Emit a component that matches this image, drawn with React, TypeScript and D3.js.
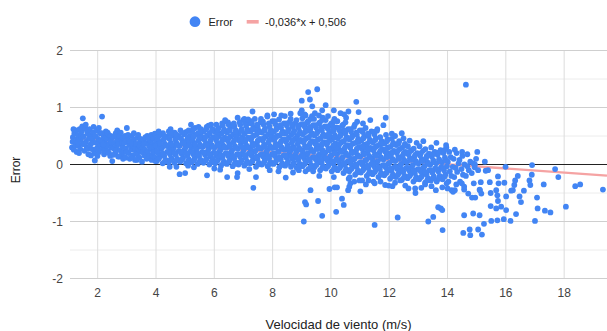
import React from 'react';
import * as d3 from 'd3';

// chart labels
const seriesLabel = 'Error';
const trendLabel = '-0,036*x + 0,506';
const xTitle = 'Velocidad de viento (m/s)';
const yTitle = 'Error';

// axis ticks
const xTicks = [2, 4, 6, 8, 10, 12, 14, 16, 18];
const yTicks = [-2, -1, 0, 1, 2];
const yMinorTicks = [-1.5, -0.5, 0.5, 1.5];
const xDomain = [1.05, 19.47];
const yDomain = [-2, 2];

// linear trend fitted by the spreadsheet
const trendSlope = -0.036;
const trendIntercept = 0.506;

// [wind speed m/s, error], grouped by speed
const calmWind: [number, number][] = [
  [1.12,.30],[1.15,.48],[1.2,.55],[1.22,.38],[1.26,.6],[1.28,.22],[1.3,.45],[1.14,.4],[1.18,.26],[1.24,.33],[1.17,.62],
  [1.33,.52],[1.35,.33],[1.38,.62],[1.4,.27],[1.42,.44],[1.45,.58],[1.48,.36],[1.49,.81],[1.36,.2],[1.44,.5],[1.47,.67],[1.32,.4],
  [1.52,.49],[1.55,.24],[1.57,.64],[1.6,.4],[1.62,.31],[1.65,.55],[1.68,.18],[1.7,.46],[1.54,.36],[1.59,.7],[1.66,.28],[1.63,.6],
  [1.72,.62],[1.75,.35],[1.78,.52],[1.8,.27],[1.83,.43],[1.86,.66],[1.88,.2],[1.9,.07],[1.74,.45],[1.77,.16],[1.84,.56],[1.81,.38],
  [1.92,.5],[1.95,.38],[1.97,.6],[2.0,.3],[2.02,.45],[2.05,.22],[2.08,.55],[2.1,.35],[1.94,.27],[1.99,.15],[2.04,.64],[2.07,.42],
  [2.12,.42],[2.15,.84],[2.17,.28],[2.2,.5],[2.22,.18],[2.25,.38],[2.28,.58],[2.3,.32],[2.14,.55],[2.19,.35],[2.24,.24],[2.27,.46],
  [2.33,.45],[2.35,.24],[2.38,.52],[2.4,.36],[2.43,.15],[2.45,.42],[2.48,.3],[2.5,.06],[2.34,.56],[2.39,.2],[2.44,.5],[2.47,.38],
  [2.52,.48],[2.55,.28],[2.57,.38],[2.6,.2],[2.62,.55],[2.65,.33],[2.68,.44],[2.7,.14],[2.54,.17],[2.58,.5],[2.63,.25],[2.67,.6],
  [2.72,.36],[2.75,.5],[2.77,.25],[2.8,.42],[2.83,.18],[2.85,.31],[2.88,.47],[2.9,.22],[2.74,.14],[2.79,.56],[2.84,.38],[2.87,.1],
  [2.92,.38],[2.95,.12],[2.97,.28],[3.0,.64],[3.02,.45],[3.05,.2],[3.08,.34],[3.1,.1],[2.94,.5],[2.99,.22],[3.04,.52],[3.07,.42],
  [3.12,.4],[3.15,.26],[3.17,.5],[3.2,.16],[3.22,.32],[3.25,.44],[3.28,.08],[3.3,.24],[3.14,.12],[3.19,.36],[3.24,.55],[3.27,.3],
  [3.32,.36],[3.35,.18],[3.37,.47],[3.4,.28],[3.43,.12],[3.45,.4],[3.48,.22],[3.5,.33],[3.34,.08],[3.39,.52],[3.44,.32],[3.47,.45],
  [3.52,.05],[3.55,.3],[3.57,.44],[3.6,.16],[3.62,.26],[3.65,.38],[3.68,.1],[3.7,.5],[3.54,.22],[3.59,.36],[3.64,.48],[3.67,.2],
  [3.72,.22],[3.75,.34],[3.77,.14],[3.8,.42],[3.83,.27],[3.85,.08],[3.88,.36],[3.9,.2],[3.74,.46],[3.79,.3],[3.84,.52],[3.87,.16],
  [3.92,.46],[3.95,.3],[3.97,.12],[3.99,.38],[3.93,.22],[3.96,.54],[3.98,.06],
];

const moderateWind: [number, number][] = [
  [4.03,.06],[4.13,.14],[4.08,.2],[4.18,.27],[4.01,.33],[4.11,.4],[4.06,.46],[4.16,.52],
  [4.23,.02],[4.33,.08],[4.28,.15],[4.38,.22],[4.21,.3],[4.31,.36],[4.26,.43],[4.36,.49],[4.24,.55],
  [4.43,.04],[4.53,.11],[4.48,.18],[4.58,.25],[4.41,.32],[4.51,.38],[4.46,.45],[4.56,.51],[4.44,.58],
  [4.63,.03],[4.73,.1],[4.68,.17],[4.78,.24],[4.61,.3],[4.71,.37],[4.66,.44],[4.76,.5],[4.64,.56],
  [4.83,.05],[4.93,.12],[4.88,.19],[4.98,.26],[4.81,.33],[4.91,.4],[4.86,.46],[4.96,.53],[4.84,.6],
  [5.03,.02],[5.13,.09],[5.08,.16],[5.18,.23],[5.01,.3],[5.11,.36],[5.06,.43],[5.16,.5],[5.04,.57],
  [5.23,.04],[5.33,.11],[5.28,.18],[5.38,.25],[5.21,.31],[5.31,.38],[5.26,.45],[5.36,.52],[5.24,.58],[5.34,.64],
  [5.43,.01],[5.53,.08],[5.48,.15],[5.58,.22],[5.41,.29],[5.51,.35],[5.46,.42],[5.56,.49],[5.44,.55],[5.54,.62],
  [5.63,.03],[5.73,.1],[5.68,.17],[5.78,.24],[5.61,.31],[5.71,.37],[5.66,.44],[5.76,.51],[5.64,.58],[5.74,.66],
  [5.83,0],[5.93,.07],[5.88,.14],[5.98,.21],[5.81,.28],[5.91,.34],[5.86,.41],[5.96,.48],[5.84,.55],[5.94,.62],[5.89,.7],
  [6.03,.02],[6.13,.09],[6.08,.16],[6.18,.23],[6.01,.3],[6.11,.37],[6.06,.43],[6.16,.5],[6.04,.57],[6.14,.64],
  [6.23,-.02],[6.33,.05],[6.28,.12],[6.38,.19],[6.21,.26],[6.31,.33],[6.26,.4],[6.36,.47],[6.24,.54],[6.34,.61],[6.29,.68],[6.39,.76],
  [6.43,.01],[6.53,.08],[6.48,.15],[6.58,.22],[6.41,.29],[6.51,.36],[6.46,.42],[6.56,.49],[6.44,.56],[6.54,.63],[6.49,.7],
  [6.63,-.03],[6.73,.04],[6.68,.11],[6.78,.18],[6.61,.25],[6.71,.32],[6.66,.39],[6.76,.46],[6.64,.53],[6.74,.6],[6.69,.67],
  [6.83,0],[6.93,.07],[6.88,.14],[6.98,.21],[6.81,.28],[6.91,.35],[6.86,.42],[6.96,.48],[6.84,.55],[6.94,.62],[6.89,.7],[6.99,.78],
  [7.03,-.02],[7.13,.05],[7.08,.12],[7.18,.19],[7.01,.26],[7.11,.33],[7.06,.4],[7.16,.47],[7.04,.54],[7.14,.61],[7.09,.68],
  [7.23,.02],[7.33,.09],[7.28,.16],[7.38,.23],[7.21,.3],[7.31,.37],[7.26,.44],[7.36,.51],[7.24,.58],[7.34,.65],[7.29,.72],[7.39,.8],
  [7.43,-.04],[7.53,.03],[7.48,.1],[7.58,.17],[7.41,.24],[7.51,.31],[7.46,.38],[7.56,.45],[7.44,.52],[7.54,.59],[7.49,.66],[7.59,.74],
  [7.63,0],[7.73,.07],[7.68,.14],[7.78,.21],[7.61,.28],[7.71,.35],[7.66,.42],[7.76,.49],[7.64,.56],[7.74,.63],[7.69,.7],
  [7.83,-.03],[7.93,.04],[7.88,.11],[7.98,.18],[7.81,.25],[7.91,.32],[7.86,.39],[7.96,.46],[7.84,.53],[7.94,.6],[7.89,.67],[7.99,.76],[7.82,.84],
  [4.15,.3],[4.5,.28],[4.9,.22],[5.15,.4],[5.5,.45],[5.7,.2],[6.1,.55],[6.3,.3],[6.55,.18],[6.75,.5],
  [7.0,.42],[7.25,.26],[7.45,.6],[7.7,.32],[7.95,.5],[5.95,.1],[6.65,.7],[7.15,.72],[4.7,.46],[5.35,.3],
  // in between the columns above
  [4.1,.1],[4.04,.24],[4.14,.37],[4.09,.5],[4.3,.05],[4.24,.19],[4.34,.33],[4.29,.47],
  [4.5,.08],[4.44,.22],[4.54,.35],[4.49,.55],[4.7,.07],[4.64,.2],[4.74,.34],[4.69,.53],
  [4.9,.09],[4.84,.23],[4.94,.37],[4.89,.56],[5.1,.06],[5.04,.2],[5.14,.33],[5.09,.47],[5.12,.6],
  [5.3,.07],[5.24,.22],[5.34,.35],[5.29,.49],[5.27,.62],[5.5,.05],[5.44,.19],[5.54,.32],[5.49,.46],[5.52,.58],
  [5.7,.07],[5.64,.21],[5.74,.34],[5.69,.48],[5.72,.62],[5.9,.04],[5.84,.18],[5.94,.31],[5.89,.45],[5.92,.59],
  [6.1,.06],[6.04,.2],[6.14,.33],[6.09,.47],[6.12,.61],[6.07,.7],[6.3,.02],[6.24,.16],[6.34,.3],[6.29,.44],[6.32,.58],[6.27,.72],
  [6.5,.05],[6.44,.19],[6.54,.32],[6.49,.46],[6.52,.6],[6.47,.74],[6.7,.01],[6.64,.15],[6.74,.29],[6.69,.43],[6.72,.57],[6.67,.72],
  [6.9,.04],[6.84,.18],[6.94,.31],[6.89,.45],[6.92,.59],[6.87,.74],[7.1,.02],[7.04,.16],[7.14,.3],[7.09,.44],[7.12,.58],[7.07,.73],
  [7.3,.05],[7.24,.2],[7.34,.33],[7.29,.48],[7.32,.62],[7.27,.76],[7.5,0],[7.44,.14],[7.54,.28],[7.49,.42],[7.52,.56],[7.47,.7],
  [7.7,.03],[7.64,.18],[7.74,.31],[7.69,.46],[7.72,.6],[7.67,.75],[7.9,.01],[7.84,.15],[7.94,.29],[7.89,.43],[7.92,.57],[7.87,.72],
  // scattered above and below the band
  [5.46,.66],[5.8,.68],[6.37,.78],[6.8,.82],[7.03,.8],[7.16,.79],[7.31,.93],[7.6,.8],[7.82,.86],[5.2,.7],[4.5,.62],[4.09,.58],
  [4.47,-.04],[4.7,-.04],[4.81,-.17],[5.0,-.15],[5.75,-.19],[6.2,-.09],[6.44,-.22],[6.8,-.15],[6.78,-.22],[7.34,-.41],[7.43,-.22],
  [5.3,-.05],[6.0,-.07],[7.9,-.1],[5.1,-.02],[7.2,-.08],
];

const freshWind: [number, number][] = [
  [8.03,.01],[8.13,.08],[8.08,.15],[8.18,.22],[8.01,.29],[8.11,.36],[8.06,.43],[8.16,.5],[8.04,.57],[8.14,.64],[8.09,.71],[8.05,.88],
  [8.23,-.05],[8.33,.02],[8.28,.09],[8.38,.16],[8.21,.23],[8.31,.3],[8.26,.37],[8.36,.44],[8.24,.51],[8.34,.58],[8.29,.65],[8.39,.72],[8.22,.79],
  [8.43,-.02],[8.53,.05],[8.48,.12],[8.58,.19],[8.41,.26],[8.51,.33],[8.46,.4],[8.56,.47],[8.44,.54],[8.54,.61],[8.49,.68],[8.59,.75],
  [8.63,-.04],[8.73,.03],[8.68,.1],[8.78,.17],[8.61,.24],[8.71,.31],[8.66,.38],[8.76,.45],[8.64,.52],[8.74,.59],[8.69,.66],[8.79,.73],[8.62,.8],[8.62,.89],
  [8.83,-.06],[8.93,.01],[8.88,.08],[8.98,.15],[8.81,.22],[8.91,.29],[8.86,.36],[8.96,.43],[8.84,.5],[8.94,.57],[8.89,.64],[8.99,.71],[8.82,.78],
  [9.03,-.03],[9.13,.04],[9.08,.11],[9.18,.18],[9.01,.25],[9.11,.32],[9.06,.39],[9.16,.46],[9.04,.53],[9.14,.6],[9.09,.67],[9.19,.74],[9.02,.81],[9.0,.95],
  [9.23,-.08],[9.33,-.01],[9.28,.06],[9.38,.13],[9.21,.2],[9.31,.27],[9.26,.34],[9.36,.41],[9.24,.48],[9.34,.55],[9.29,.62],[9.39,.69],[9.22,.76],[9.13,.86],
  [9.43,-.05],[9.53,.02],[9.48,.09],[9.58,.16],[9.41,.23],[9.51,.3],[9.46,.37],[9.56,.44],[9.44,.51],[9.54,.58],[9.49,.65],[9.59,.72],[9.42,.8],
  [9.63,-.1],[9.73,-.03],[9.68,.04],[9.78,.11],[9.61,.18],[9.71,.25],[9.66,.32],[9.76,.39],[9.64,.46],[9.74,.53],[9.69,.6],[9.79,.67],[9.62,.74],[9.72,.82],[9.59,.86],
  [9.83,-.07],[9.93,0],[9.88,.07],[9.98,.14],[9.81,.21],[9.91,.28],[9.86,.35],[9.96,.42],[9.84,.49],[9.94,.56],[9.89,.63],[9.99,.7],[9.82,.78],
  [10.03,-.12],[10.13,-.05],[10.08,.02],[10.18,.09],[10.01,.16],[10.11,.23],[10.06,.3],[10.16,.37],[10.04,.44],[10.14,.51],[10.09,.58],[10.19,.65],[10.02,.72],[10.12,.8],
  [10.23,-.1],[10.33,-.03],[10.28,.04],[10.38,.11],[10.21,.18],[10.31,.25],[10.26,.32],[10.36,.39],[10.24,.46],[10.34,.53],[10.29,.6],[10.39,.68],[10.22,.76],
  [10.43,-.15],[10.53,-.08],[10.48,-.01],[10.58,.06],[10.41,.13],[10.51,.2],[10.46,.27],[10.56,.34],[10.44,.41],[10.54,.48],[10.49,.55],[10.59,.62],[10.42,.7],[10.52,.82],
  [10.63,-.12],[10.73,-.05],[10.68,.02],[10.78,.09],[10.61,.16],[10.71,.23],[10.66,.3],[10.76,.37],[10.64,.44],[10.74,.51],[10.69,.58],[10.79,.66],
  [10.83,-.18],[10.93,-.11],[10.88,-.04],[10.98,.03],[10.81,.1],[10.91,.17],[10.86,.24],[10.96,.31],[10.84,.38],[10.94,.45],[10.89,.52],[10.99,.6],[10.82,.7],
  [11.03,-.14],[11.13,-.07],[11.08,0],[11.18,.07],[11.01,.14],[11.11,.21],[11.06,.28],[11.16,.35],[11.04,.42],[11.14,.49],[11.09,.57],[11.19,.64],
  [11.23,-.2],[11.33,-.13],[11.28,-.06],[11.38,.01],[11.21,.08],[11.31,.15],[11.26,.22],[11.36,.29],[11.24,.36],[11.34,.43],[11.29,.5],[11.39,.58],
  [11.43,-.17],[11.53,-.1],[11.48,-.03],[11.58,.04],[11.41,.11],[11.51,.18],[11.46,.25],[11.56,.32],[11.44,.39],[11.54,.46],[11.49,.53],[11.59,.62],
  [11.63,-.22],[11.73,-.15],[11.68,-.08],[11.78,-.01],[11.61,.06],[11.71,.13],[11.66,.2],[11.76,.27],[11.64,.34],[11.74,.41],[11.69,.48],
  [11.83,-.19],[11.93,-.12],[11.88,-.05],[11.98,.02],[11.81,.09],[11.91,.16],[11.86,.23],[11.96,.3],[11.84,.37],[11.94,.44],[11.89,.52],
  [8.1,.3],[8.35,.55],[8.55,.25],[8.8,.45],[9.05,.2],[9.25,.6],[9.5,.35],[9.75,.15],[9.95,.5],[10.2,.28],
  [10.45,.6],[10.7,.1],[10.95,.4],[11.2,.3],[11.45,.05],[11.7,.35],[11.95,.2],[9.35,.85],[10.05,.68],[8.95,.9],
  // in between the columns above
  [8.1,.04],[8.04,.19],[8.14,.33],[8.09,.47],[8.12,.61],[8.07,.76],[8.3,-.01],[8.24,.13],[8.34,.27],[8.29,.41],[8.32,.55],[8.27,.69],
  [8.5,.02],[8.44,.16],[8.54,.3],[8.49,.44],[8.52,.58],[8.47,.72],[8.7,0],[8.64,.14],[8.74,.28],[8.69,.42],[8.72,.56],[8.67,.7],
  [8.9,-.02],[8.84,.12],[8.94,.26],[8.89,.4],[8.92,.54],[8.87,.68],[9.1,.01],[9.04,.15],[9.14,.29],[9.09,.43],[9.12,.57],[9.07,.71],[9.1,.88],
  [9.3,-.04],[9.24,.1],[9.34,.24],[9.29,.38],[9.32,.52],[9.27,.66],[9.3,.8],[9.5,-.01],[9.44,.13],[9.54,.27],[9.49,.41],[9.52,.55],[9.47,.69],
  [9.7,-.06],[9.64,.08],[9.74,.22],[9.69,.36],[9.72,.5],[9.67,.64],[9.7,.78],[9.9,-.03],[9.84,.11],[9.94,.25],[9.89,.39],[9.92,.53],[9.87,.67],
  [10.1,-.08],[10.04,.06],[10.14,.2],[10.09,.34],[10.12,.48],[10.07,.62],[10.1,.76],[10.3,-.06],[10.24,.08],[10.34,.22],[10.29,.36],[10.32,.5],[10.27,.64],
  [10.5,-.11],[10.44,.03],[10.54,.17],[10.49,.31],[10.52,.45],[10.47,.59],[10.5,.74],[10.7,-.08],[10.64,.06],[10.74,.2],[10.69,.34],[10.72,.48],[10.67,.62],
  [10.9,-.14],[10.84,0],[10.94,.14],[10.89,.28],[10.92,.42],[10.87,.56],[11.1,-.1],[11.04,.04],[11.14,.18],[11.09,.32],[11.12,.46],[11.07,.6],
  [11.3,-.16],[11.24,-.02],[11.34,.12],[11.29,.26],[11.32,.4],[11.27,.54],[11.5,-.13],[11.44,.01],[11.54,.15],[11.49,.29],[11.52,.43],[11.47,.57],
  [11.7,-.18],[11.64,-.04],[11.74,.1],[11.69,.24],[11.72,.38],[11.9,-.15],[11.84,-.01],[11.94,.13],[11.89,.27],[11.92,.41],
  // scattered above and below the band
  [8.42,.85],[9.0,1.12],[9.22,1.27],[9.53,1.32],[9.28,1.14],[9.36,1.02],[9.82,1.04],[10.1,.95],[10.33,.9],[10.6,.93],[10.87,1.1],
  [10.95,.92],[10.9,.75],[11.35,.78],[11.88,.82],[11.8,.69],[11.58,.59],[9.45,.9],[9.7,.95],[10.45,.88],[8.3,.86],[9.9,.85],[11.1,.72],
  [8.45,-.23],[8.9,-.1],[9.13,-.12],[9.39,-.12],[9.3,-.45],[9.11,-.66],[9.15,-.7],[9.56,-.64],[9.07,-1.0],[9.7,-.9],[9.95,-.43],
  [10.13,-.4],[10.21,-.4],[10.18,-.83],[10.38,-.6],[10.44,-.71],[10.59,-.45],[10.63,-.39],[10.61,-.25],[10.67,-.33],[10.65,-.22],
  [10.98,-.28],[11.01,-.47],[11.07,-.28],[11.29,-.28],[11.46,-.3],[11.5,-.33],[11.5,-1.06],[11.86,-.36],[11.98,-.37],
  [8.2,-.12],[8.7,-.14],[9.6,-.2],[10.1,-.22],[10.8,-.3],[11.2,-.35],[11.7,-.3],
];

const strongWind: [number, number][] = [
  [12.03,-.25],[12.13,-.18],[12.08,-.11],[12.18,-.04],[12.01,.03],[12.11,.1],[12.06,.17],[12.16,.24],[12.04,.31],[12.14,.38],[12.09,.45],
  [12.23,-.22],[12.33,-.15],[12.28,-.08],[12.38,-.01],[12.21,.06],[12.31,.13],[12.26,.2],[12.36,.27],[12.24,.34],[12.34,.41],
  [12.43,-.27],[12.53,-.2],[12.48,-.13],[12.58,-.06],[12.41,.01],[12.51,.08],[12.46,.15],[12.56,.22],[12.44,.29],[12.54,.36],[12.49,.46],
  [12.63,-.24],[12.73,-.17],[12.68,-.1],[12.78,-.03],[12.61,.04],[12.71,.11],[12.66,.18],[12.76,.25],[12.64,.32],
  [12.83,-.3],[12.93,-.22],[12.88,-.15],[12.98,-.08],[12.81,-.01],[12.91,.06],[12.86,.13],[12.96,.2],[12.84,.28],[12.94,.38],
  [13.03,-.26],[13.13,-.19],[13.08,-.12],[13.18,-.05],[13.01,.02],[13.11,.09],[13.06,.16],[13.16,.24],[13.04,.32],
  [13.23,-.32],[13.33,-.24],[13.28,-.17],[13.38,-.1],[13.21,-.03],[13.31,.04],[13.26,.11],[13.36,.19],[13.24,.27],
  [13.43,-.28],[13.53,-.21],[13.48,-.14],[13.58,-.07],[13.41,0],[13.51,.07],[13.46,.14],[13.56,.22],[13.44,.3],
  [13.63,-.3],[13.73,-.2],[13.68,-.12],[13.78,-.05],[13.61,.02],[13.71,.09],[13.66,.17],[13.76,.25],
  [13.83,-.26],[13.93,-.17],[13.88,-.1],[13.98,-.03],[13.81,.04],[13.91,.12],[13.86,.2],[13.96,.3],
  [14.03,-.3],[14.13,-.2],[14.08,-.12],[14.18,-.04],[14.01,.05],[14.11,.13],[14.06,.22],
  [14.23,-.22],[14.33,-.13],[14.28,-.06],[14.38,.02],[14.21,.1],[14.31,.2],
  [14.43,-.3],[14.53,-.18],[14.48,-.08],[14.58,0],[14.41,.08],[14.51,.15],
  [14.63,-.2],[14.73,-.1],[14.68,-.03],[14.78,.05],
  [14.83,-.15],[14.93,-.05],[14.88,.02],[14.98,.1],
  // in between the columns above
  [12.1,-.21],[12.04,-.07],[12.14,.07],[12.09,.21],[12.12,.35],[12.3,-.18],[12.24,-.04],[12.34,.1],[12.29,.24],[12.32,.37],
  [12.5,-.23],[12.44,-.09],[12.54,.05],[12.49,.19],[12.52,.33],[12.7,-.2],[12.64,-.06],[12.74,.08],[12.69,.22],
  [12.9,-.26],[12.84,-.11],[12.94,.03],[12.89,.17],[13.1,-.22],[13.04,-.08],[13.14,.06],[13.09,.2],
  [13.3,-.28],[13.24,-.13],[13.34,.01],[13.29,.15],[13.5,-.24],[13.44,-.1],[13.54,.04],[13.49,.18],
  [13.7,-.25],[13.64,-.08],[13.74,.06],[13.69,.21],[13.9,-.21],[13.84,-.06],[13.94,.08],[13.89,.25],
  // scattered above and below the band
  [12.09,.54],[12.43,.55],[13.17,.41],[13.62,.38],[13.95,.34],[12.7,.42],[14.63,1.4],[14.68,.18],[14.5,.22],[14.25,.26],[12.2,.5],
  [12.11,-.38],[12.2,-.32],[12.38,-.28],[12.55,-.37],[12.66,-.42],[12.89,-.42],[13.1,-.41],[13.23,-.35],[13.45,-.38],[13.82,-.4],
  [14.14,-.45],[14.19,-.48],[14.25,-.45],[14.57,-.44],[14.71,-.51],[14.84,-.58],[14.57,-.39],[13.97,-.33],[14.49,-.33],[14.9,-.33],
  [12.29,-.93],[13.34,-1.0],[13.51,-.92],[13.68,-.75],[13.77,-.77],[13.82,-.8],[13.83,-1.15],[14.57,-.89],[14.54,-1.2],[14.76,-1.14],
  [14.78,-1.24],[14.88,-.86],[14.94,0],[14.3,-.35],[14.0,-.42],[12.9,-.5],[13.6,-.45],[14.95,-.58],
];

const galeWind: [number, number][] = [
  [15.02,.22],[15.28,.05],[15.31,-.11],[15.05,-.1],[15.39,-.1],[15.1,-.44],[15.14,-.31],[15.16,-.51],[15.45,-.31],[15.48,-.5],
  [15.67,-.45],[15.71,-.54],[15.73,-.64],[15.75,-.33],[15.73,-.21],[15.95,-.32],[15.99,-.04],[16.01,-.56],[16.18,-.46],[16.24,-.45],
  [16.29,-.36],[16.32,-.28],[16.41,-.2],[16.47,-.56],[16.52,-.66],[16.62,-.46],[16.81,-.28],[16.84,-.36],[16.89,-.18],[16.9,-.01],
  [17.07,-.58],[17.3,-.35],[17.69,-.08],[17.8,-.22],[18.38,-.38],[18.55,-.35],[19.33,-.44],
  [15.05,-1.14],[15.1,-.89],[15.18,-1.23],[15.25,-1.04],[15.48,-.73],[15.5,-.99],[15.67,-.77],[15.71,-.98],[15.84,-.74],[15.93,-.96],
  [16.01,-.8],[16.16,-.99],[16.35,-.87],[17.0,-.99],[17.09,-.77],[17.34,-.81],[17.53,-.84],[18.06,-.74],[15.11,-.45],
];

const allPoints = [...calmWind, ...moderateWind, ...freshWind, ...strongWind, ...galeWind];

const W = 607;
const H = 331;
const plot = { left: 70, right: 607, top: 50.5, bottom: 278.5 };
const font = "Arial, 'Liberation Sans', Helvetica, sans-serif";
const blue = '#4285f4';
const pink = '#f5a3a3';

export default function App() {
  const x = d3.scaleLinear().domain(xDomain).range([plot.left, plot.right]);
  const y = d3.scaleLinear().domain(yDomain).range([plot.bottom, plot.top]);

  const trend = d3.line<number>()
    .x(d => x(d))
    .y(d => y(trendSlope * d + trendIntercept));

  return (
    <svg width={W} height={H} style={{ position: 'absolute', left: 0, top: 0, background: '#fff' }}
      fontFamily={font}>
      <rect width={W} height={H} fill="#fff" />

      {/* legend */}
      <circle cx={195} cy={21.7} r={5.4} fill={blue} />
      <text x={208.5} y={25.8} fontSize={11} fill="#222">{seriesLabel}</text>
      <rect x={246.7} y={20} width={12} height={3.6} fill={pink} />
      <text x={265} y={25.8} fontSize={11} fill="#222">{trendLabel}</text>

      {/* grid */}
      {yMinorTicks.map(t => (
        <line key={'m' + t} x1={plot.left} x2={plot.right} y1={y(t)} y2={y(t)} stroke="#ececec" />
      ))}
      {xTicks.map(t => (
        <line key={'v' + t} x1={x(t)} x2={x(t)} y1={plot.top} y2={plot.bottom} stroke="#dcdcdc" />
      ))}
      {yTicks.filter(t => t !== 0).map(t => (
        <line key={'h' + t} x1={plot.left} x2={plot.right} y1={y(t)} y2={y(t)} stroke="#cfcfcf" />
      ))}
      <line x1={plot.left} x2={plot.right} y1={y(0)} y2={y(0)} stroke="#222" strokeWidth={1.1} />

      {/* trend line */}
      <path d={trend(xDomain) ?? ''} fill="none" stroke={pink} strokeWidth={2.4} />

      {/* points */}
      <g fill={blue}>
        {allPoints.map(([sx, e], i) => (
          <circle key={i} cx={x(sx)} cy={y(e)} r={2.9} />
        ))}
      </g>

      {/* tick labels */}
      {yTicks.map(t => (
        <text key={'yl' + t} x={63} y={y(t)} dy="0.35em" textAnchor="end" fontSize={12} fill="#444">{t}</text>
      ))}
      {xTicks.map(t => (
        <text key={'xl' + t} x={x(t)} y={297} textAnchor="middle" fontSize={12} fill="#444">{t}</text>
      ))}

      {/* axis titles */}
      <text transform={`translate(20,170) rotate(-90)`} textAnchor="middle" fontSize={12} fill="#222">{yTitle}</text>
      <text x={(plot.left + plot.right) / 2} y={329} textAnchor="middle" fontSize={13} fill="#222">{xTitle}</text>
    </svg>
  );
}
